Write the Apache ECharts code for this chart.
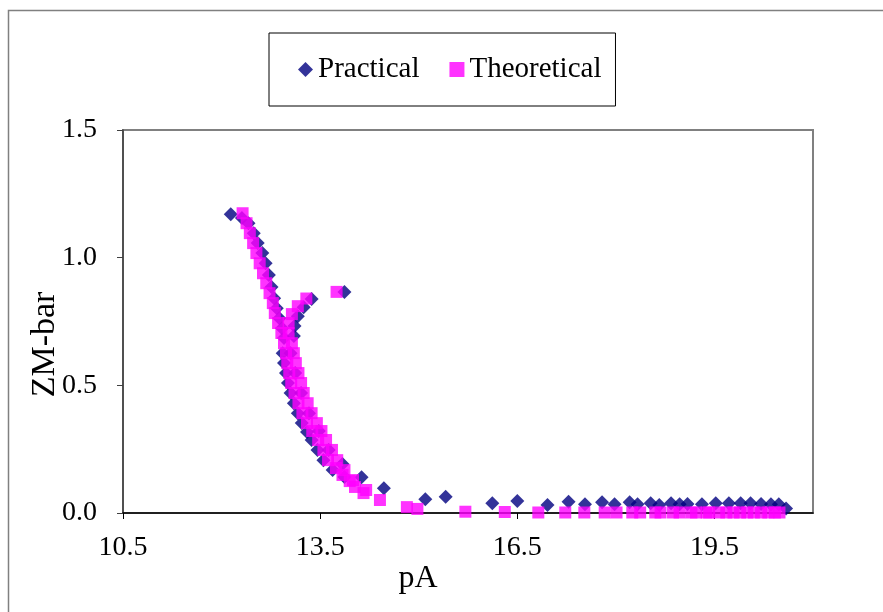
<!DOCTYPE html>
<html>
<head>
<meta charset="utf-8">
<script src="https://cdn.jsdelivr.net/npm/echarts@6/dist/echarts.min.js"></script>
<style>
html,body{margin:0;padding:0;background:#fff;}
#c{width:883px;height:612px;}
</style>
</head>
<body>
<div id="c"></div>
<script>
// ---- Data ----
const xTickValues = [10.5, 13.5, 16.5, 19.5];
const yTickValues = [0.0, 0.5, 1.0, 1.5];

const practicalPA = [
  12.14, 12.31, 12.41, 12.49, 12.55, 12.62, 12.67, 12.72, 12.76, 12.80, 12.84, 12.88, 12.92, 12.95,
  12.93, 12.95, 12.98, 13.01, 13.05, 13.10, 13.16, 13.22, 13.30, 13.37, 13.46, 13.55, 13.69, 13.87,
  14.13, 14.47, 15.10, 15.41, 16.12, 16.50, 16.96, 17.28, 17.53, 17.79, 17.98, 18.21, 18.33, 18.53,
  18.66, 18.84, 18.97, 19.09, 19.31, 19.52, 19.72, 19.90, 20.05, 20.21, 20.36, 20.48, 20.59,
  13.87, 13.37, 13.25, 13.16, 13.11, 13.10, 13.05, 13.12, 13.21, 13.33, 13.48, 13.63, 13.84
];
const practicalZM = [
  1.170, 1.155, 1.135, 1.096, 1.057, 1.018, 0.978, 0.932, 0.885, 0.841, 0.802, 0.763, 0.724, 0.685,
  0.626, 0.587, 0.548, 0.509, 0.470, 0.430, 0.391, 0.352, 0.317, 0.286, 0.247, 0.207, 0.168, 0.141,
  0.140, 0.097, 0.054, 0.064, 0.038, 0.047, 0.031, 0.044, 0.034, 0.042, 0.034, 0.042, 0.034, 0.038,
  0.031, 0.038, 0.034, 0.035, 0.034, 0.038, 0.038, 0.038, 0.038, 0.035, 0.034, 0.034, 0.018,
  0.866, 0.838, 0.806, 0.771, 0.732, 0.693, 0.626, 0.548, 0.470, 0.391, 0.321, 0.247, 0.192
];

const theoreticalPA = [
  12.32, 12.38, 12.43, 12.48, 12.53, 12.58, 12.63, 12.68, 12.73, 12.78, 12.81, 12.86, 12.91, 12.95,
  12.98, 13.00, 13.03, 13.06, 13.11, 13.17, 13.23, 13.30, 13.38, 13.47, 13.55, 13.62, 13.74, 13.84,
  13.95, 14.03, 14.16, 14.41, 14.82, 14.98, 15.71, 16.31, 16.82, 17.23, 17.52, 17.83, 18.01, 18.25,
  18.37, 18.60, 18.68, 18.87, 18.97, 19.15, 19.22, 19.38, 19.42, 19.57, 19.68, 19.79, 19.89, 20.00,
  20.10, 20.21, 20.32, 20.42, 20.49,
  13.75, 13.29, 13.16, 13.07, 13.02, 13.02, 13.07, 13.10, 13.13, 13.17, 13.21, 13.25, 13.31, 13.37,
  13.45, 13.52, 13.59, 13.68, 13.76, 13.87, 14.00, 14.20
];
const theoreticalZM = [
  1.174, 1.135, 1.096, 1.057, 1.018, 0.978, 0.939, 0.900, 0.861, 0.822, 0.783, 0.744, 0.705, 0.665,
  0.626, 0.587, 0.548, 0.509, 0.470, 0.430, 0.391, 0.352, 0.321, 0.286, 0.247, 0.207, 0.176, 0.149,
  0.125, 0.102, 0.078, 0.051, 0.023, 0.016, 0.005, 0.004, 0.002, 0.002, 0.002, 0.002, 0.002, 0.002,
  0.002, 0.002, 0.002, 0.002, 0.002, 0.002, 0.002, 0.002, 0.002, 0.002, 0.002, 0.002, 0.002, 0.002,
  0.002, 0.002, 0.002, 0.002, 0.002,
  0.866, 0.840, 0.810, 0.779, 0.744, 0.705, 0.665, 0.626, 0.587, 0.548, 0.509, 0.470, 0.430, 0.391,
  0.352, 0.321, 0.286, 0.247, 0.207, 0.168, 0.129, 0.090
];

const practicalData = practicalPA.map((x, i) => [x, practicalZM[i]]);
const theoreticalData = theoreticalPA.map((x, i) => [x, theoreticalZM[i]]);

const FONT = "'Liberation Serif', 'Times New Roman', serif";

const chart = echarts.init(document.getElementById('c'), null, {renderer: 'canvas'});
chart.setOption({
  animation: false,
  backgroundColor: '#ffffff',
  graphic: [{
    type: 'rect',
    shape: {x: 8.5, y: 10.5, width: 1000, height: 1000},
    style: {fill: 'none', stroke: '#808080', lineWidth: 1.5},
    silent: true
  }],
  grid: {
    left: 123, right: 70, top: 130, bottom: 99,
    show: true, borderColor: '#808080', borderWidth: 2, backgroundColor: '#ffffff'
  },
  legend: {
    left: 269, top: 33,
    padding: [22, 14, 22, 29],
    borderColor: '#000000', borderWidth: 1,
    itemWidth: 15, itemHeight: 15, itemGap: 30,
    textStyle: {fontFamily: FONT, fontSize: 29, color: '#000'},
    data: [
      {name: 'Practical', icon: 'diamond'},
      {name: 'Theoretical', icon: 'rect'}
    ]
  },
  xAxis: {
    type: 'value', min: 10.5, max: 21,
    name: 'pA', nameLocation: 'middle', nameGap: 50, nameMoveOverlap: false,
    nameTextStyle: {fontFamily: FONT, fontSize: 32, color: '#000', padding: [0, 100, 0, 0]},
    axisLine: {show: true, lineStyle: {color: '#000', width: 1.5}},
    axisTick: {show: true, inside: false, length: 6, customValues: xTickValues, lineStyle: {color: '#000'}},
    axisLabel: {customValues: xTickValues, margin: 21, fontFamily: FONT, fontSize: 28, color: '#000',
      formatter: v => v.toFixed(1)},
    splitLine: {show: false}
  },
  yAxis: {
    type: 'value', min: 0, max: 1.5, interval: 0.5,
    name: 'ZM-bar', nameLocation: 'middle', nameGap: 61, nameRotate: 90, nameMoveOverlap: false,
    nameTextStyle: {fontFamily: FONT, fontSize: 34, color: '#000', padding: [0, 46, 0, 0]},
    axisLine: {show: true, lineStyle: {color: '#404040', width: 1.5}},
    axisTick: {show: true, inside: false, length: 6, lineStyle: {color: '#404040'}},
    axisLabel: {margin: 26, fontFamily: FONT, fontSize: 28, color: '#000',
      formatter: v => v.toFixed(1)},
    splitLine: {show: false}
  },
  series: [
    {
      name: 'Practical', type: 'scatter', symbol: 'diamond', symbolSize: 14,
      itemStyle: {color: '#000080'}, emphasis: {disabled: true},
      data: practicalData, z: 2
    },
    {
      name: 'Theoretical', type: 'scatter', symbol: 'rect', symbolSize: 12,
      itemStyle: {color: '#FF00FF'}, emphasis: {disabled: true},
      data: theoreticalData, z: 3
    }
  ]
});
</script>
</body>
</html>
